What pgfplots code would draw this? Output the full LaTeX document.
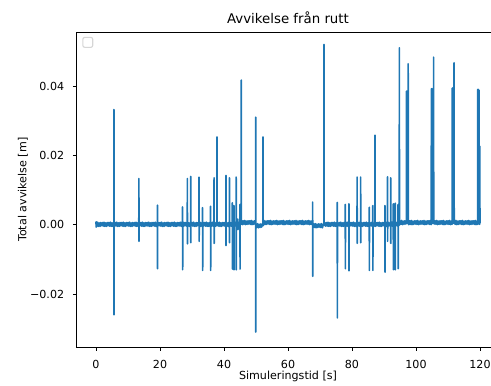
\documentclass[border=0pt]{standalone}
\usepackage{fontspec}
\setmainfont{DejaVu Sans}
\usepackage{pgfplots}
\pgfplotsset{compat=1.18}
\definecolor{mplblue}{HTML}{1F77B4}
\definecolor{legframe}{HTML}{D6D6D6}

\begin{document}
\begin{tikzpicture}
\begin{axis}[
  at={(0pt,0pt)}, anchor=south west,
  scale only axis,
  width=304.1pt, height=226.6pt,
  xmin=-6, xmax=126,
  ymin=-0.0353, ymax=0.0555,
  xtick={0,20,40,60,80,100,120},
  xticklabels={0,20,40,60,80,100,120},
  ytick={-0.02,0,0.02,0.04},
  yticklabels={−0.02,0.00,0.02,0.04},
  scaled y ticks=false,
  xtick pos=lower, ytick pos=left,
  tick align=outside,
  major tick length=2.8pt,
  tick style={black, line width=0.64pt},
  axis line style={line width=0.64pt},
  xticklabel style={font=\fontsize{8}{9.6}\selectfont, anchor=base, inner sep=0pt, yshift=-12.4pt},
  yticklabel style={font=\fontsize{8}{9.6}\selectfont, anchor=east, inner sep=0pt, xshift=-6.1pt},
  every axis title shift=0pt,
  title={Avvikelse från rutt},
  title style={font=\fontsize{9.6}{11.5}\selectfont, at={(axis description cs:0.5,1.0278)}, anchor=base, inner sep=0pt},
  xlabel={Simuleringstid [s]},
  xlabel style={font=\fontsize{8}{9.6}\selectfont, at={(axis description cs:0.5,-0.1041)}, anchor=base, inner sep=0pt},
  ylabel={Total avvikelse [m]},
  ylabel style={font=\fontsize{8}{9.6}\selectfont, at={(axis description cs:-0.1194,0.5)}, anchor=base, inner sep=0pt},
]
\addplot[mplblue, line width=1.2pt, line join=round] coordinates {
(0,0.0009) (0.05,-0.0007) (0.1,0.0008) (0.15,-0.0006) (0.25,-0.0004) (0.5,0.0007) (0.75,-0.0005)
(1,0.0005) (1.25,-0.0005) (1.5,0.0006) (1.75,-0.0003)
(2,0.0006) (2.25,-0.0004) (2.5,0.0007) (2.75,-0.0005)
(3,0.0005) (3.25,-0.0005) (3.5,0.0006) (3.75,-0.0003)
(4,0.0006) (4.25,-0.0004) (4.5,0.0007) (4.75,-0.0005)
(5,0.0005) (5.25,-0.0005) (5.5,0.0006) (5.58,0) (5.6,0.0332) (5.63,-0.0260) (5.65,0) (5.75,-0.0003)
(6,0.0006) (6.25,-0.0004) (6.5,0.0007) (6.75,-0.0005)
(7,0.0005) (7.25,-0.0005) (7.5,0.0006) (7.75,-0.0003)
(8,0.0006) (8.25,-0.0004) (8.5,0.0007) (8.75,-0.0005)
(9,0.0005) (9.25,-0.0005) (9.5,0.0006) (9.75,-0.0003)
(10,0.0006) (10.25,-0.0004) (10.5,0.0007) (10.75,-0.0005)
(11,0.0005) (11.25,-0.0005) (11.5,0.0006) (11.75,-0.0003)
(12,0.0006) (12.25,-0.0004) (12.5,0.0007) (12.75,-0.0005)
(13,0.0005) (13.25,-0.0005) (13.38,0) (13.4,0.0133) (13.43,-0.0048) (13.45,0) (13.5,0.0006) (13.75,-0.0003)
(14,0.0006) (14.25,-0.0004) (14.5,0.0007) (14.75,-0.0005)
(15,0.0005) (15.25,-0.0005) (15.5,0.0006) (15.75,-0.0003)
(16,0.0006) (16.25,-0.0004) (16.5,0.0007) (16.75,-0.0005)
(17,0.0005) (17.25,-0.0005) (17.5,0.0006) (17.75,-0.0003)
(18,0.0006) (18.25,-0.0004) (18.5,0.0007) (18.75,-0.0005)
(19,0.0005) (19.18,0) (19.2,0.0056) (19.23,-0.0127) (19.25,-0.0005) (19.5,0.0006) (19.75,-0.0003)
(20,0.0006) (20.25,-0.0004) (20.5,0.0007) (20.75,-0.0005)
(21,0.0005) (21.25,-0.0005) (21.5,0.0006) (21.75,-0.0003)
(22,0.0006) (22.25,-0.0004) (22.5,0.0007) (22.75,-0.0005)
(23,0.0005) (23.25,-0.0005) (23.5,0.0006) (23.75,-0.0003)
(24,0.0006) (24.25,-0.0004) (24.5,0.0007) (24.75,-0.0005)
(25,0.0005) (25.25,-0.0005) (25.5,0.0006) (25.75,-0.0003)
(26,0.0006) (26.25,-0.0004) (26.5,0.0007) (26.75,-0.0005)
(27,0.0005) (27.03,0) (27.05,0.0051) (27.08,-0.0130) (27.1,0) (27.25,-0.0005) (27.5,0.0006) (27.75,-0.0003)
(28,0.0006) (28.25,-0.0004) (28.5,0.0007) (28.53,0) (28.55,0.0133) (28.58,-0.0055) (28.6,0) (28.75,-0.0005)
(29,0.0005) (29.25,-0.0005) (29.5,0.0006) (29.58,0) (29.6,0.0139) (29.63,-0.0052) (29.65,0) (29.75,-0.0003)
(30,0.0006) (30.25,-0.0004) (30.5,0.0007) (30.75,-0.0005)
(31,0.0005) (31.25,-0.0005) (31.5,0.0006) (31.75,-0.0003)
(32,0.0006) (32.18,0) (32.2,0.0137) (32.23,-0.0048) (32.25,-0.0004) (32.5,0.0007) (32.75,-0.0005)
(33,0.0005) (33.25,-0.0005) (33.28,0) (33.3,0.0049) (33.33,-0.0132) (33.35,0) (33.5,0.0006) (33.75,-0.0003)
(34,0.0006) (34.25,-0.0004) (34.5,0.0007) (34.75,-0.0005)
(35,0.0005) (35.25,-0.0005) (35.5,0.0006) (35.75,-0.0003) (35.78,0) (35.8,0.0053) (35.83,-0.0132) (35.85,0)
(36,0.0006) (36.25,-0.0004) (36.5,0.0007) (36.75,-0.0005) (36.88,0) (36.9,0.0135) (36.93,-0.0054) (36.95,0)
(37,0.0005) (37.25,-0.0005) (37.5,0.0006) (37.75,-0.0003) (37.78,0) (37.8,0.0253) (37.83,0)
(38,0.0006) (38.25,-0.0004) (38.5,0.0007) (38.75,-0.0005)
(39,0.0005) (39.25,-0.0005) (39.5,0.0006) (39.75,-0.0003)
(40,0.0006) (40.25,-0.0004) (40.5,0.0007) (40.58,0) (40.6,0.0142) (40.63,-0.0060) (40.65,0) (40.75,-0.0005)
(41,0.0005) (41.25,-0.0005) (41.5,0.0006) (41.68,0) (41.7,0.0135) (41.73,-0.0052) (41.75,-0.0003)
(42,0.0006) (42.25,-0.0004) (42.5,0.0007) (42.58,0) (42.6,0.0063) (42.63,-0.0128) (42.65,0) (42.75,-0.0005)
(43,0.0005) (43.08,0) (43.1,0.0055) (43.13,-0.0130) (43.15,0) (43.25,-0.0005) (43.5,0.0006) (43.75,-0.0003) (43.78,0) (43.8,0.0137) (43.83,-0.0130) (43.85,0)
(44,0.0006) (44.25,-0.0004) (44.3,0.0016) (44.4,-0.0014) (44.5,0.0007) (44.75,-0.0005)
(44.98,0) (45,0.0058) (45.03,-0.0128) (45.05,0) (45.25,0.0001) (45.38,0.0003) (45.4,0.0417) (45.43,0.0004) (45.5,0.0012) (45.75,0.0000)
(46,0.0011) (46.25,0.0001) (46.5,0.0012) (46.75,0.0000)
(47,0.0010) (47.25,0.0001) (47.5,0.0011) (47.75,0.0002)
(48,0.0011) (48.25,0.0001) (48.5,0.0012) (48.75,0.0000)
(49,0.0010) (49.25,0.0001) (49.5,0.0011) (49.75,0.0002) (49.88,0.0003) (49.9,0.0310) (49.93,-0.0310) (49.95,-0.0003)
(50,0.0002) (50.25,-0.0008) (50.5,0.0003) (50.75,-0.0009) (51,0.0001) (51.25,-0.0008) (51.5,0.0002) (51.75,-0.0007) (52,0.0002) (52.18,-0.0003) (52.2,0.0253) (52.23,0.0005) (52.25,0.0001) (52.5,0.0012) (52.75,0.0000)
(53,0.0010) (53.25,0.0001) (53.5,0.0011) (53.75,0.0002)
(54,0.0011) (54.25,0.0001) (54.5,0.0012) (54.75,0.0000)
(55,0.0010) (55.25,0.0001) (55.5,0.0011) (55.75,0.0002)
(56,0.0011) (56.25,0.0001) (56.5,0.0012) (56.75,0.0000)
(57,0.0010) (57.25,0.0001) (57.5,0.0011) (57.75,0.0002)
(58,0.0011) (58.25,0.0001) (58.5,0.0012) (58.75,0.0000)
(59,0.0010) (59.25,0.0001) (59.5,0.0011) (59.75,0.0002)
(60,0.0011) (60.25,0.0001) (60.5,0.0012) (60.75,0.0000)
(61,0.0010) (61.25,0.0001) (61.5,0.0011) (61.75,0.0002)
(62,0.0011) (62.25,0.0001) (62.5,0.0012) (62.75,0.0000)
(63,0.0010) (63.25,0.0001) (63.5,0.0011) (63.75,0.0002)
(64,0.0011) (64.25,0.0001) (64.5,0.0012) (64.75,0.0000)
(65,0.0010) (65.25,0.0001) (65.5,0.0011) (65.75,0.0002)
(66,0.0011) (66.25,0.0001) (66.5,0.0012) (66.75,0.0000)
(67,0.0010) (67.25,0.0001) (67.5,0.0011) (67.68,0.0003) (67.7,0.0065) (67.73,-0.0149) (67.75,-0.0003)
(68,0.0002) (68.25,-0.0008) (68.5,0.0003) (68.75,-0.0009) (69,0.0001) (69.25,-0.0008) (69.5,0.0002) (69.75,-0.0007)
(70,0.0002) (70.25,-0.0008) (70.5,0.0003) (70.75,-0.0009) (71,0.0001) (71.23,-0.0002) (71.25,0.0520) (71.28,0.0000) (71.5,0.0006) (71.75,-0.0004)
(72,0.0006) (72.25,-0.0004) (72.5,0.0007) (72.75,-0.0005)
(73,0.0005) (73.25,-0.0005) (73.5,0.0006) (73.75,-0.0003)
(74,0.0006) (74.25,-0.0004) (74.5,0.0007) (74.75,-0.0005)
(75,0.0005) (75.25,-0.0005) (75.38,0) (75.4,0.0064) (75.43,-0.0269) (75.45,0) (75.5,0.0006) (75.75,-0.0003)
(76,0.0006) (76.25,-0.0004) (76.5,0.0007) (76.75,-0.0005)
(77,0.0005) (77.25,-0.0005) (77.5,0.0006) (77.75,-0.0003) (77.88,0) (77.9,0.0058) (77.93,-0.0127) (77.95,0)
(78,0.0006) (78.25,-0.0004) (78.5,0.0007) (78.75,-0.0005)
(79,0.0005) (79.03,0) (79.05,0.0060) (79.08,-0.0133) (79.1,0) (79.25,-0.0005) (79.5,0.0006) (79.75,-0.0003)
(80,0.0006) (80.25,-0.0004) (80.5,0.0007) (80.75,-0.0005)
(81,0.0005) (81.25,-0.0005) (81.5,0.0006) (81.58,0) (81.6,0.0137) (81.63,-0.0054) (81.65,0) (81.75,-0.0003)
(82,0.0006) (82.25,-0.0004) (82.5,0.0007) (82.68,0) (82.7,0.0137) (82.73,-0.0052) (82.75,-0.0005)
(83,0.0005) (83.25,-0.0005) (83.5,0.0006) (83.75,-0.0003)
(84,0.0006) (84.25,-0.0004) (84.5,0.0007) (84.75,-0.0005)
(85,0.0005) (85.25,-0.0005) (85.38,0) (85.4,0.0050) (85.43,-0.0132) (85.45,0) (85.5,0.0006) (85.75,-0.0003)
(86,0.0006) (86.25,-0.0004) (86.48,0) (86.5,0.0055) (86.53,-0.0132) (86.55,0) (86.75,-0.0005)
(87,0.0005) (87.18,0) (87.2,0.0258) (87.23,0) (87.25,-0.0005) (87.5,0.0006) (87.75,-0.0003)
(88,0.0006) (88.25,-0.0004) (88.5,0.0007) (88.75,-0.0005)
(89,0.0005) (89.25,-0.0005) (89.5,0.0006) (89.75,-0.0003)
(90,0.0006) (90.25,-0.0004) (90.28,0) (90.3,0.0055) (90.33,-0.0137) (90.35,0) (90.5,0.0007) (90.75,-0.0005)
(91,0.0005) (91.08,0) (91.1,0.0138) (91.13,-0.0048) (91.15,0) (91.25,-0.0005) (91.5,0.0006) (91.75,-0.0003)
(92,0.0006) (92.08,0) (92.1,0.0135) (92.13,-0.0054) (92.15,0) (92.25,-0.0004) (92.5,0.0007) (92.75,-0.0005) (92.88,0) (92.9,0.0060) (92.93,-0.0130) (92.95,0)
(93,0.0005) (93.25,-0.0005) (93.48,0) (93.5,0.0062) (93.53,-0.0130) (93.55,0) (93.75,-0.0003)
(94,0.0006) (94.25,-0.0004) (94.38,0) (94.4,0.0058) (94.43,-0.0127) (94.45,0) (94.5,0.0007) (94.75,-0.0002) (94.78,0.0002) (94.8,0.0510) (94.83,0.0004)
(95,0.0011) (95.25,0.0001) (95.5,0.0012) (95.75,0.0000)
(96,0.0010) (96.25,0.0001) (96.5,0.0011) (96.75,0.0002) (96.98,0.0004) (97,0.0385) (97.03,0.0004) (97.18,0.0004) (97.2,0.0385) (97.23,0.0005) (97.33,0.0004) (97.35,0.0380) (97.38,0.0004) (97.53,0.0004) (97.55,0.0464) (97.58,0.0004) (97.75,0.0000)
(98,0.0011) (98.25,0.0001) (98.5,0.0012) (98.75,0.0000)
(99,0.0010) (99.25,0.0001) (99.5,0.0011) (99.75,0.0002)
(100,0.0011) (100.25,0.0001) (100.5,0.0012) (100.75,0.0000)
(101,0.0010) (101.25,0.0001) (101.5,0.0011) (101.75,0.0002)
(102,0.0011) (102.25,0.0001) (102.5,0.0012) (102.75,0.0000)
(103,0.0010) (103.25,0.0001) (103.5,0.0011) (103.75,0.0002)
(104,0.0011) (104.25,0.0001) (104.5,0.0012) (104.75,0.0000) (104.78,0.0004) (104.8,0.0392) (104.83,0.0004) (104.98,0.0004) (105,0.0392) (105.03,0.0005) (105.18,0.0004) (105.2,0.0390) (105.23,0.0004) (105.48,0.0004) (105.5,0.0483) (105.53,0.0004) (105.75,0.0002)
(106,0.0011) (106.25,0.0001) (106.5,0.0012) (106.75,0.0000)
(107,0.0010) (107.25,0.0001) (107.5,0.0011) (107.75,0.0002)
(108,0.0011) (108.25,0.0001) (108.5,0.0012) (108.75,0.0000)
(109,0.0010) (109.25,0.0001) (109.5,0.0011) (109.75,0.0002)
(110,0.0011) (110.25,0.0001) (110.5,0.0012) (110.75,0.0000)
(111,0.0010) (111.25,0.0001) (111.33,0.0004) (111.35,0.0394) (111.38,0.0004) (111.48,0.0004) (111.5,0.0394) (111.53,0.0005) (111.63,0.0004) (111.65,0.0392) (111.68,0.0004) (111.88,0.0004) (111.9,0.0467) (111.93,0.0004)
(112,0.0011) (112.25,0.0001) (112.5,0.0012) (112.75,0.0000)
(113,0.0010) (113.25,0.0001) (113.5,0.0011) (113.75,0.0002)
(114,0.0011) (114.25,0.0001) (114.5,0.0012) (114.75,0.0000)
(115,0.0010) (115.25,0.0001) (115.5,0.0011) (115.75,0.0002)
(116,0.0011) (116.25,0.0001) (116.5,0.0012) (116.75,0.0000)
(117,0.0010) (117.25,0.0001) (117.5,0.0011) (117.75,0.0002)
(118,0.0011) (118.25,0.0001) (118.5,0.0012) (118.75,0.0000)
(119,0.0010) (119.25,0.0001) (119.28,0.0004) (119.3,0.0390) (119.33,0.0004) (119.48,0.0004) (119.5,0.0390) (119.53,0.0004) (119.68,0.0004) (119.7,0.0388) (119.73,0.0005) (119.85,0.0001) (119.93,0.0005) (119.95,0.0226) (119.98,0.0005) (120,0.0010)
};
% empty legend frame in the upper left corner
\draw[legframe, line width=0.8pt, rounded corners=1.5pt, fill=white]
  (rel axis cs:0.0142,0.952) rectangle (rel axis cs:0.0378,0.984);
\end{axis}
\pgfresetboundingbox
\useasboundingbox (-55.3pt,-27.36pt) rectangle (298.2pt,249.84pt);
\end{tikzpicture}
\end{document}
